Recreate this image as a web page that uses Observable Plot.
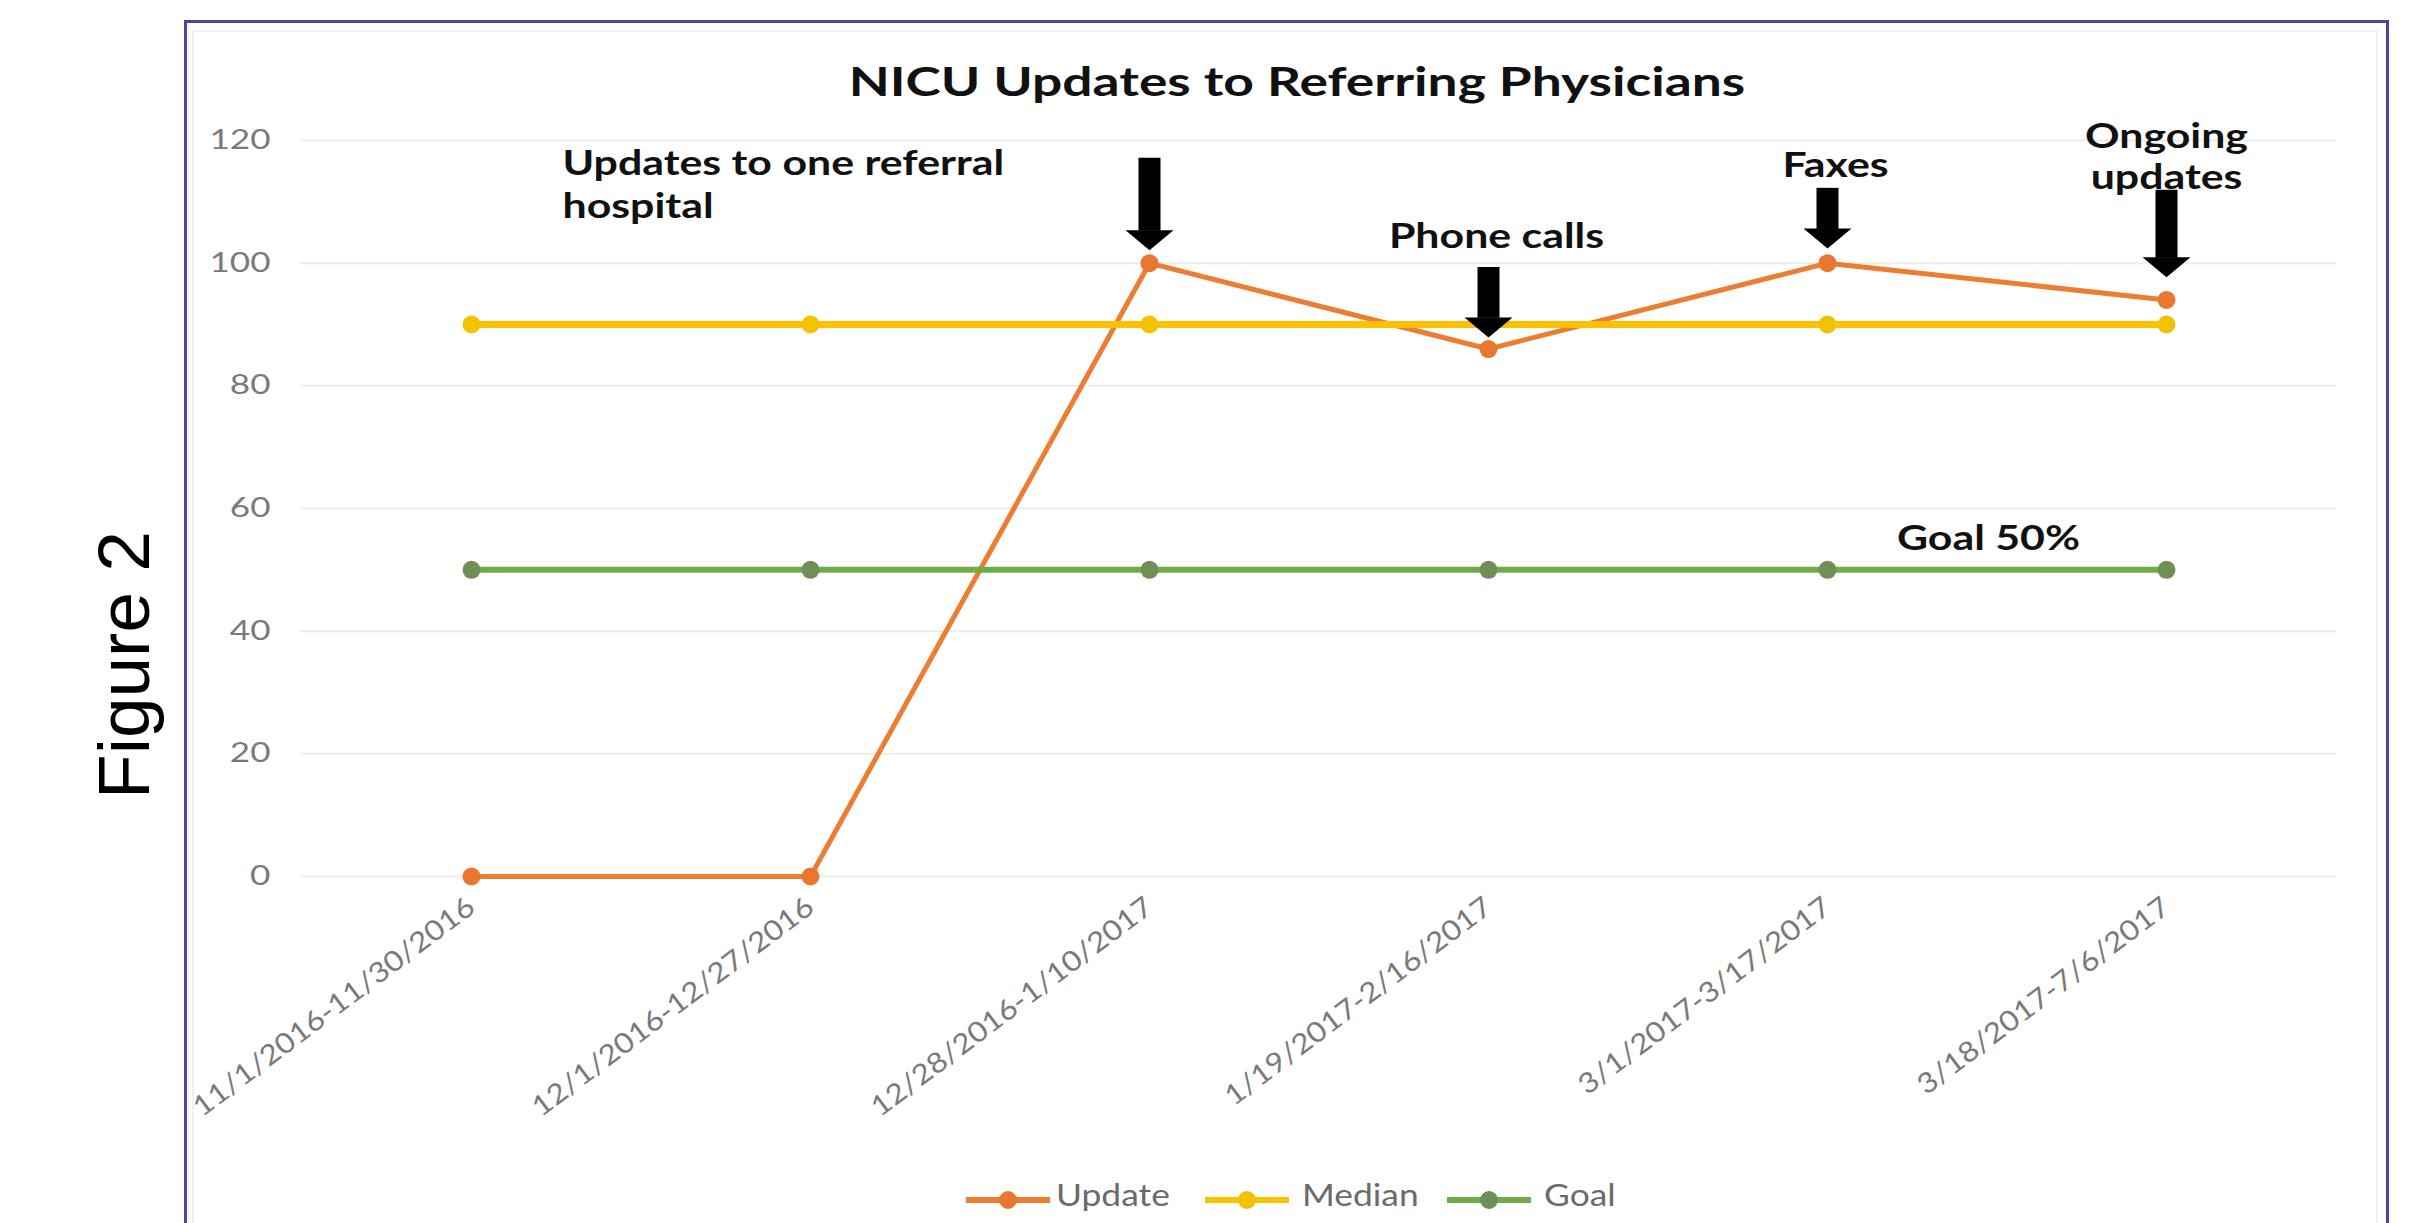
<!DOCTYPE html>
<html>
<head>
<meta charset="utf-8">
<script src="https://cdn.jsdelivr.net/npm/d3@7"></script>
<script src="https://cdn.jsdelivr.net/npm/@observablehq/plot@0.6"></script>
<style>
  html, body { margin: 0; padding: 0; background: #fff; }
  #page { position: relative; width: 2413px; height: 1223px; overflow: hidden; background: #fff; font-family: Lato, sans-serif; }
  #fig { position: absolute; left: 123px; top: 665px; transform: translate(-50%, -50%) rotate(-90deg); font-family: "Liberation Sans", Arial, sans-serif; font-size: 73px; color: #000; white-space: nowrap; }
  #frame { position: absolute; left: 184px; top: 20px; width: 2205px; height: 1300px; border: 3px solid #5b3d9e; box-sizing: border-box; }
  #inner { position: absolute; left: 192px; top: 30px; width: 2186px; height: 1300px; border: 2px solid #f0f0f0; box-sizing: border-box; }
  #chart { position: absolute; left: 0; top: 0; }
  #title { position: absolute; left: 1297px; top: 80px; transform: translate(-50%, -50%) scaleX(1.3); font-family: Lato, sans-serif; font-weight: 700; font-size: 41px; color: #111; white-space: nowrap; }
  #legend { position: absolute; left: 0; top: 0; width: 2413px; height: 1223px; pointer-events: none; font-family: Lato, sans-serif; font-size: 30px; color: #6b6b6b; }
  #legend .sw { position: absolute; }
  #legend .lab { position: absolute; transform: translateY(-50%) scaleX(1.18); transform-origin: left center; white-space: nowrap; }
</style>
</head>
<body>
<div id="page">
  <div id="fig">Figure 2</div>
  <div id="inner"></div>
  <div id="frame"></div>
  <div id="chart"></div>
  <div id="title"></div>
  <div id="legend"></div>
</div>
<script>
// ---- data ----
const categories = [
  "11/1/2016-11/30/2016",
  "12/1/2016-12/27/2016",
  "12/28/2016-1/10/2017",
  "1/19/2017-2/16/2017",
  "3/1/2017-3/17/2017",
  "3/18/2017-7/6/2017"
];
const updateValues = [0, 0, 100, 86, 100, 94];
const medianValues = [90, 90, 90, 90, 90, 90];
const goalValues = [50, 50, 50, 50, 50, 50];
const yTicks = [0, 20, 40, 60, 80, 100, 120];
const seriesNames = ["Update", "Median", "Goal"];
const seriesColors = ["#ED7D31", "#FFC000", "#70AD47"];
const markerColors = ["#E8782F", "#F2C200", "#6F8F57"];
const titleText = "NICU Updates to Referring Physicians";

// annotations
const arrowCategories = [categories[2], categories[3], categories[4], categories[5]];
const arrowTops = [117.1, 99.3, 112.2, 111.9];
const arrowTips = [102.1, 87.9, 102.4, 97.7];
const arrowShaftEnds = [105.2, 91.0, 105.5, 100.8];

const noteLines = ["Updates to one referral", "hospital", "Phone calls", "Faxes", "Ongoing", "updates"];
const noteCategories = [categories[0], categories[0], categories[3], categories[4], categories[5], categories[5]];
const noteValues = [116.1, 109.1, 104.3, 115.8, 120.6, 113.8];
const noteAnchors = ["start", "start", "middle", "middle", "middle", "middle"];
const noteOffsets = [91, 91, 8, 8, 0, 0];
const goalNote = "Goal 50%";
const goalNoteCategory = categories[4];
const goalNoteValue = 55.0;

// ---- build ----
const seriesValues = [updateValues, medianValues, goalValues];
const rows = [];
seriesNames.forEach((s, i) => categories.forEach((c, j) => rows.push({series: s, cat: c, value: seriesValues[i][j]})));
const arrows = arrowCategories.map((c, i) => ({cat: c, top: arrowTops[i], tip: arrowTips[i], end: arrowShaftEnds[i]}));
const notes = noteLines.map((t, i) => ({text: t, cat: noteCategories[i], value: noteValues[i], anchor: noteAnchors[i], off: noteOffsets[i]}));

const downTriangle = {
  draw(ctx) {
    ctx.moveTo(-24, -20);
    ctx.lineTo(24, -20);
    ctx.lineTo(0, 0);
    ctx.closePath();
  }
};

const lineWidths = {Update: 5, Median: 7, Goal: 6};

const marks = [
  Plot.gridY(yTicks, {stroke: "#d9d9d9", strokeOpacity: 0.5, strokeWidth: 2}),
  Plot.axisY(yTicks, {tickSize: 0, tickPadding: 30, fontSize: 27, color: "#7a7a7a", fontFamily: "Lato"}),
  Plot.axisX({tickSize: 0, tickRotate: -37, tickPadding: 27, fontSize: 28, color: "#7a7a7a", fontFamily: "Lato"})
];
seriesNames.forEach((s, i) => {
  const d = rows.filter(r => r.series === s);
  marks.push(Plot.line(d, {x: "cat", y: "value", stroke: seriesColors[i], strokeWidth: lineWidths[s]}));
  marks.push(Plot.dot(d, {x: "cat", y: "value", r: 9, fill: markerColors[i], stroke: "none"}));
});
marks.push(
  Plot.ruleX(arrows, {x: "cat", y1: "top", y2: "end", stroke: "#000", strokeWidth: 22}),
  Plot.dot(arrows, {x: "cat", y: "tip", symbol: downTriangle, fill: "#000", stroke: "none", r: 10})
);
notes.forEach(n => {
  marks.push(Plot.text([n], {x: "cat", y: "value", text: "text", textAnchor: n.anchor, dx: n.off, fontSize: 34, fontWeight: 700, fill: "#111", fontFamily: "Lato"}));
});
marks.push(
  Plot.text([goalNote], {x: () => goalNoteCategory, y: () => goalNoteValue, text: d => d, dx: 161, fontSize: 34, fontWeight: 700, fill: "#111", fontFamily: "Lato"})
);

const chart = Plot.plot({
  width: 2413,
  height: 1223,
  marginLeft: 300,
  marginRight: 77,
  marginTop: 140,
  marginBottom: 347,
  x: {type: "point", domain: categories, padding: 0.5, label: null},
  y: {domain: [0, 120], label: null},
  style: {fontFamily: "Lato, sans-serif", background: "transparent", overflow: "visible"},
  marks
});
document.getElementById("chart").appendChild(chart);
document.getElementById("title").textContent = titleText;

// widen glyphs horizontally to match the reference's stretched look
function stretch(selector, factor) {
  chart.querySelectorAll(selector).forEach(t => {
    const L = t.getComputedTextLength();
    if (L > 0) {
      t.setAttribute("textLength", (L * factor).toFixed(1));
      t.setAttribute("lengthAdjust", "spacingAndGlyphs");
    }
  });
}
stretch('g[aria-label="y-axis tick label"] text', 1.3);
stretch('g[aria-label="x-axis tick label"] text', 1.13);
stretch('g[aria-label="text"] text', 1.26);

// legend
const legendSwatchX = [966, 1205, 1447];
const legendLabelX = [1056, 1302, 1544];
const legendY = 1194;
const legend = document.getElementById("legend");
seriesNames.forEach((s, i) => {
  const sw = document.createElement("div");
  sw.className = "sw";
  sw.style.left = legendSwatchX[i] + "px";
  sw.style.top = (legendY - 12) + "px";
  sw.innerHTML = `<svg width="84" height="24"><line x1="0" y1="12" x2="84" y2="12" stroke="${seriesColors[i]}" stroke-width="6"/><circle cx="42" cy="12" r="9" fill="${markerColors[i]}"/></svg>`;
  legend.appendChild(sw);
  const lab = document.createElement("div");
  lab.className = "lab";
  lab.style.left = legendLabelX[i] + "px";
  lab.style.top = legendY + "px";
  lab.textContent = s;
  legend.appendChild(lab);
});
</script>
</body>
</html>
